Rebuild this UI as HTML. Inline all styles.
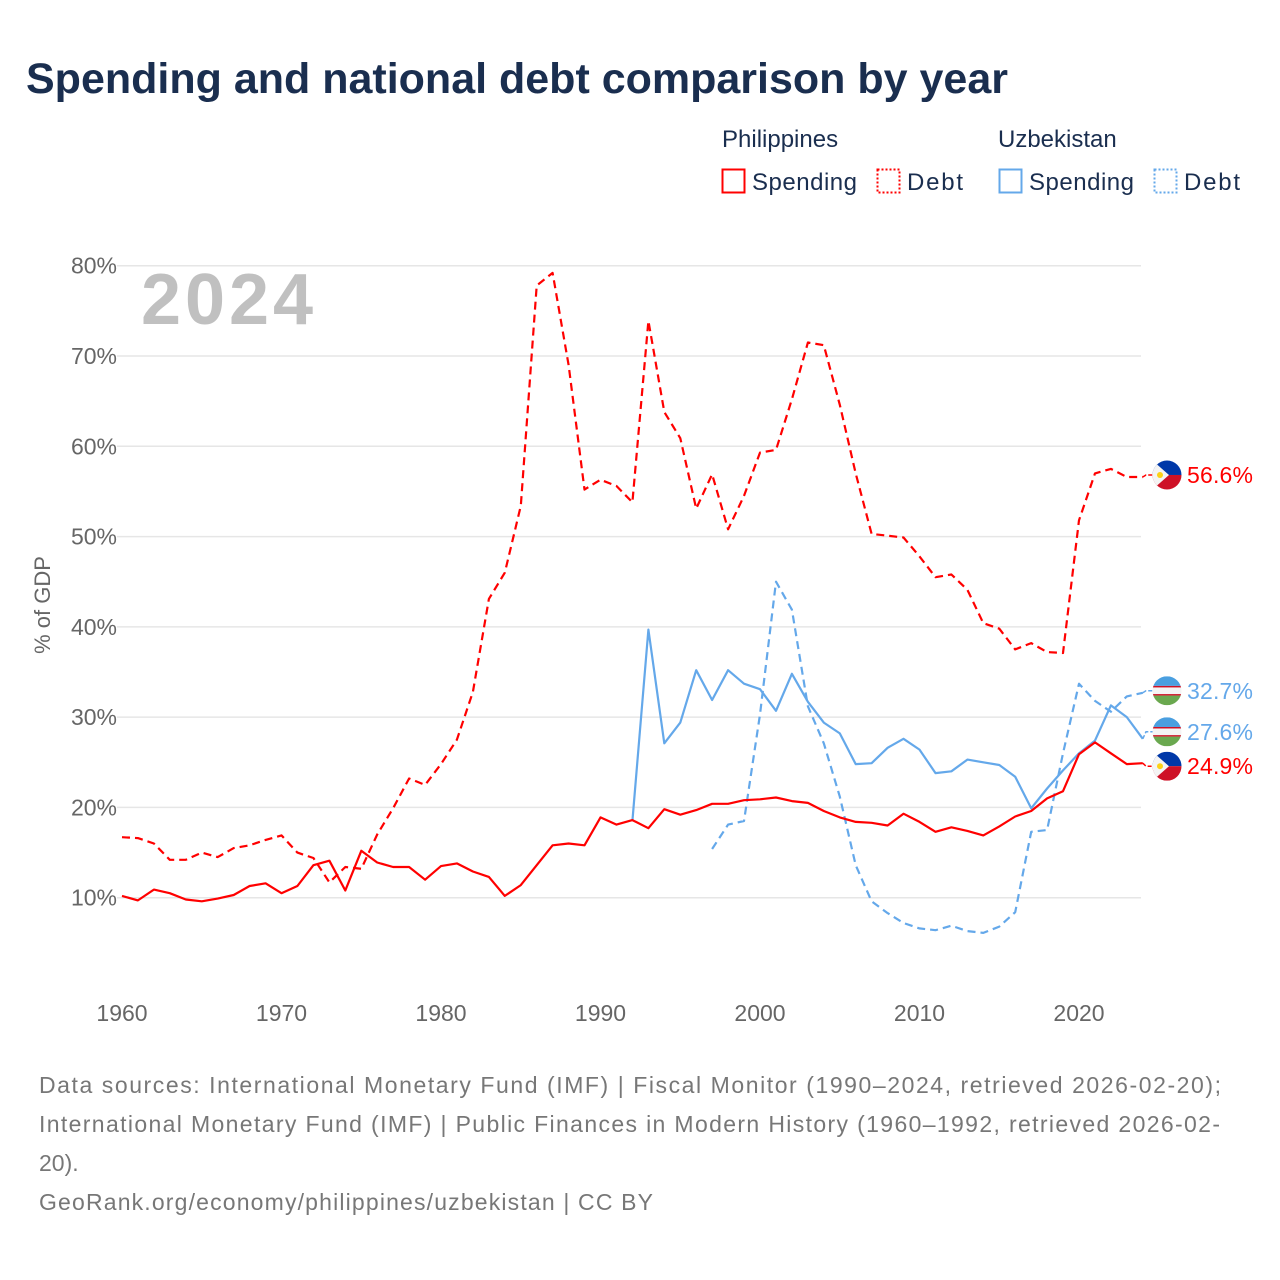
<!DOCTYPE html>
<html><head><meta charset="utf-8">
<style>
body{margin:0;background:#fff;font-family:"Liberation Sans",sans-serif;}
#wrap{position:relative;width:1280px;height:1280px;overflow:hidden;}
svg text{font-family:"Liberation Sans",sans-serif;}
</style></head>
<body>
<div id="wrap">
<svg id="chart" width="1280" height="1280">
<text x="26" y="93" font-size="43" font-weight="bold" fill="#1a2e4f">Spending and national debt comparison by year</text>
<g>
<text x="722" y="147" font-size="24" fill="#1a2e4f">Philippines</text>
<text x="998" y="147" font-size="24" fill="#1a2e4f">Uzbekistan</text>
<g><rect x="722.5" y="169.5" width="22" height="23" fill="none" stroke="#ff0000" stroke-width="2"/><text x="752" y="190" font-size="24" fill="#1a2e4f" textLength="105">Spending</text></g>
<g><rect x="877.5" y="169.5" width="22" height="23" fill="none" stroke="#ff0000" stroke-width="2" stroke-dasharray="2 2"/><text x="907" y="190" font-size="24" fill="#1a2e4f" textLength="56">Debt</text></g>
<g><rect x="999.5" y="169.5" width="22" height="23" fill="none" stroke="#64a8ea" stroke-width="2"/><text x="1029" y="190" font-size="24" fill="#1a2e4f" textLength="105">Spending</text></g>
<g><rect x="1154.5" y="169.5" width="22" height="23" fill="none" stroke="#64a8ea" stroke-width="2" stroke-dasharray="2 2"/><text x="1184" y="190" font-size="24" fill="#1a2e4f" textLength="56">Debt</text></g>
</g>
<g id="grid"></g>
<text x="141" y="324" font-size="72" font-weight="bold" fill="#c0c0c0" textLength="172">2024</text>
<text transform="translate(50,605) rotate(-90)" text-anchor="middle" font-size="22" fill="#666">% of GDP</text>
<g id="series"></g>
<g id="ends"></g>
<g font-size="23" fill="#777">
<text x="39" y="1093" textLength="1182">Data sources: International Monetary Fund (IMF) | Fiscal Monitor (1990–2024, retrieved 2026-02-20);</text>
<text x="39" y="1132" textLength="1181">International Monetary Fund (IMF) | Public Finances in Modern History (1960–1992, retrieved 2026-02-</text>
<text x="39" y="1171">20).</text>
<text x="39" y="1210" textLength="614">GeoRank.org/economy/philippines/uzbekistan | CC BY</text>
</g>
</svg>
</div>
<script>
const yTicks=[10,20,30,40,50,60,70,80];
const xTicks=[1960,1970,1980,1990,2000,2010,2020];
const phSpendStart=1960;
const phSpending=[10.2,9.7,10.9,10.5,9.8,9.6,9.9,10.3,11.3,11.6,10.5,11.3,13.6,14.1,10.8,15.2,13.9,13.4,13.4,12.0,13.5,13.8,12.9,12.3,10.2,11.4,13.6,15.8,16.0,15.8,18.9,18.1,18.6,17.7,19.8,19.2,19.7,20.4,20.4,20.8,20.9,21.1,20.7,20.5,19.6,18.9,18.4,18.3,18.0,19.3,18.4,17.3,17.8,17.4,16.9,17.9,19.0,19.6,21.0,21.8,25.9,27.2,26.0,24.8,24.9];
const phDebtStart=1960;
const phDebt=[16.7,16.6,16.0,14.2,14.2,15.0,14.5,15.5,15.8,16.4,16.9,15.0,14.4,11.7,13.4,13.2,17.0,19.9,23.2,22.5,24.8,27.5,32.8,43.1,46.0,53.4,77.8,79.2,69.0,55.2,56.3,55.6,53.8,73.9,63.8,60.9,53.1,56.9,50.8,54.5,59.3,59.6,65.2,71.5,71.2,64.6,57.0,50.3,50.1,49.9,47.8,45.5,45.8,44.1,40.4,39.8,37.5,38.2,37.2,37.1,51.8,57.0,57.5,56.6,56.6];
const uzSpendStart=1992;
const uzSpending=[18.5,39.7,27.1,29.4,35.2,31.9,35.2,33.7,33.1,30.7,34.8,31.7,29.4,28.2,24.8,24.9,26.6,27.6,26.4,23.8,24.0,25.3,25.0,24.7,23.4,19.9,22.1,24.1,26.0,27.4,31.3,30.0,27.6];
const uzDebtStart=1997;
const uzDebt=[15.4,18.1,18.5,30.3,45.0,41.9,31.2,27.1,21.2,13.6,9.6,8.3,7.2,6.6,6.4,6.9,6.3,6.1,6.8,8.4,17.3,17.5,26.0,33.7,31.8,30.6,32.3,32.7];

const NS="http://www.w3.org/2000/svg";
const X=yr=>122+(yr-1960)*(1079-122)/60;
const Y=v=>988-v*(898-266)/70;
function mk(tag,attrs,parent){const e=document.createElementNS(NS,tag);for(const k in attrs)e.setAttribute(k,attrs[k]);parent.appendChild(e);return e;}
const grid=document.getElementById('grid');
yTicks.forEach(t=>{
  const l=mk('line',{x1:117,x2:1141,y1:Y(t),y2:Y(t),stroke:'#e6e6e6','stroke-width':1.5},grid);
  
  
  const tx=mk('text',{x:117,y:Y(t)+8,'text-anchor':'end','font-size':23,fill:'#666'},grid);
  tx.textContent=t+'%';
  
  
});
xTicks.forEach(t=>{
  const tx=mk('text',{x:X(t),y:1021,'text-anchor':'middle','font-size':23,fill:'#666'},grid);
  tx.textContent=t;
  
  
});
const ser=document.getElementById('series');
function line(arr,start,color,dash,name){
  const pts=arr.map((v,i)=>X(start+i).toFixed(1)+','+Y(v).toFixed(1)).join(' ');
  const p=mk('polyline',{points:pts,fill:'none',stroke:color,'stroke-width':2.2,'stroke-linejoin':'round'},ser);
  if(dash)p.setAttribute('stroke-dasharray','8 5');
  
  
}
line(phDebt,phDebtStart,'#ff0000',true,'line-philippines-debt');
line(uzDebt,uzDebtStart,'#64a8ea',true,'line-uzbekistan-debt');
line(uzSpending,uzSpendStart,'#64a8ea',false,'line-uzbekistan-spending');
line(phSpending,phSpendStart,'#ff0000',false,'line-philippines-spending');

const ends=document.getElementById('ends');
function endLabel(v,color,flag,name,ly){
  const y=ly;
  mk('polyline',{points:X(2024)+','+Y(v)+' 1146,'+y+' 1156,'+y,fill:'none',stroke:color,'stroke-width':1.5,'stroke-dasharray':'4 2'},ends);
  const g=mk('g',{},ends);
  
  
  const cx=1167,r=14.5;
  const cp=mk('clipPath',{id:'c'+name},g);
  mk('circle',{cx:cx,cy:y,r:r},cp);
  const f=mk('g',{'clip-path':'url(#c'+name+')'},g);
  if(flag==='ph'){
    mk('rect',{x:cx-r,y:y-r,width:2*r,height:r,fill:'#0038a8'},f);
    mk('rect',{x:cx-r,y:y,width:2*r,height:r,fill:'#ce1126'},f);
    mk('polygon',{points:(cx-r)+','+(y-r)+' '+(cx+2)+','+y+' '+(cx-r)+','+(y+r),fill:'#f4f4f4'},f);
    mk('circle',{cx:cx-7,cy:y,r:3,fill:'#fcd116'},f);
  }else{
    mk('rect',{x:cx-r,y:y-r,width:2*r,height:2*r/3,fill:'#4a9fe0'},f);
    mk('rect',{x:cx-r,y:y-r/3,width:2*r,height:2*r/3,fill:'#f4f4f4'},f);
    mk('rect',{x:cx-r,y:y-r/3,width:2*r,height:1.5,fill:'#ce1126'},f);
    mk('rect',{x:cx-r,y:y+r/3-1.5,width:2*r,height:1.5,fill:'#ce1126'},f);
    mk('rect',{x:cx-r,y:y+r/3,width:2*r,height:2*r/3,fill:'#6aa84f'},f);
  }
  const t=mk('text',{x:1187,y:y+8,'font-size':23,fill:color,textLength:66},g);
  t.textContent=v.toFixed(1)+'%';
}
endLabel(phDebt[phDebt.length-1],'#ff0000','ph','end-label-ph-debt',Y(phDebt[phDebt.length-1])-2);
endLabel(uzDebt[uzDebt.length-1],'#64a8ea','uz','end-label-uz-debt',Y(uzDebt[uzDebt.length-1])-2);
endLabel(uzSpending[uzSpending.length-1],'#64a8ea','uz','end-label-uz-spending',Y(uzSpending[uzSpending.length-1])-7);
endLabel(phSpending[phSpending.length-1],'#ff0000','ph','end-label-ph-spending',Y(phSpending[phSpending.length-1])+3);
</script>
</body></html>
